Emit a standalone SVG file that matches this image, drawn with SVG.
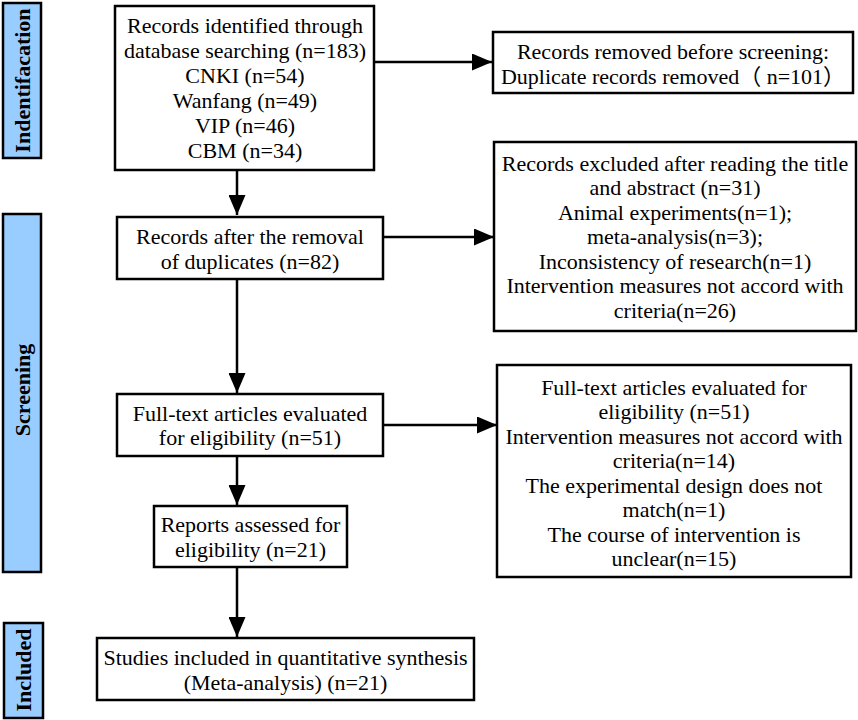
<svg xmlns="http://www.w3.org/2000/svg" width="858" height="720" viewBox="0 0 858 720">
<defs>
<style>
.box{fill:#fff;stroke:#000;stroke-width:2.5}
.side{fill:#99CCFF;stroke:#000;stroke-width:2.5}
.t{font-family:'Liberation Serif','Times New Roman','Noto Sans CJK SC',serif;font-size:22px;text-anchor:middle;fill:#000}
.st{font-family:'Liberation Serif','Times New Roman',serif;font-size:22px;font-weight:bold;text-anchor:middle;fill:#000}
.c{stroke:#000;stroke-width:2.5;fill:none;marker-end:url(#ah)}
</style>
<marker id="ah" markerUnits="userSpaceOnUse" markerWidth="20" markerHeight="17" refX="20" refY="8.5" orient="auto">
<path d="M0,0 L20,8.5 L0,17 z" fill="#000"/>
</marker>
</defs>
<rect width="858" height="720" fill="#fff"/>

<g id="label-identification">
<rect class="side" x="3" y="3" width="38" height="155"/>
<text class="st" transform="translate(30,80.5) rotate(-90)">Indentifacation</text>
</g>
<g id="label-screening">
<rect class="side" x="3" y="214" width="38" height="358"/>
<text class="st" transform="translate(30,390) rotate(-90)">Screening</text>
</g>
<g id="label-included">
<rect class="side" x="4" y="623" width="39" height="95"/>
<text class="st" transform="translate(31,670) rotate(-90)">Included</text>
</g>

<g id="connectors">
<line class="c" x1="374" y1="62" x2="492" y2="62"/>
<line class="c" x1="237" y1="170" x2="237" y2="215"/>
<line class="c" x1="383" y1="237" x2="494" y2="237"/>
<line class="c" x1="237" y1="279" x2="237" y2="393"/>
<line class="c" x1="383" y1="425" x2="497" y2="425"/>
<line class="c" x1="237" y1="456" x2="237" y2="505"/>
<line class="c" x1="237" y1="567" x2="237" y2="637"/>
</g>

<g id="identified">
<rect class="box" x="115" y="6" width="259" height="164"/>
<text class="t" x="245" y="33">Records identified through</text>
<text class="t" x="245" y="58">database searching (n=183)</text>
<text class="t" x="245" y="83">CNKI (n=54)</text>
<text class="t" x="245" y="108">Wanfang (n=49)</text>
<text class="t" x="245" y="133">VIP (n=46)</text>
<text class="t" x="245" y="158">CBM (n=34)</text>
</g>

<g id="removed">
<rect class="box" x="493" y="32" width="360" height="61"/>
<text class="t" x="673" y="59">Records removed before screening:</text>
<text class="t" x="673" y="83.5">Duplicate records removed（ n=101）</text>
</g>

<g id="after-removal">
<rect class="box" x="117" y="217" width="266" height="62"/>
<text class="t" x="250" y="243.5">Records after the removal</text>
<text class="t" x="250" y="268.5">of duplicates (n=82)</text>
</g>

<g id="excluded">
<rect class="box" x="494" y="142" width="362" height="189"/>
<text class="t" x="675" y="170.5">Records excluded after reading the title</text>
<text class="t" x="675" y="195">and abstract (n=31)</text>
<text class="t" x="675" y="219.5">Animal experiments(n=1);</text>
<text class="t" x="675" y="244">meta-analysis(n=3);</text>
<text class="t" x="675" y="268.5">Inconsistency of research(n=1)</text>
<text class="t" x="675" y="293">Intervention measures not accord with</text>
<text class="t" x="675" y="317.5">criteria(n=26)</text>
</g>

<g id="fulltext">
<rect class="box" x="117" y="394" width="266" height="62"/>
<text class="t" x="250" y="420.5">Full-text articles evaluated</text>
<text class="t" x="250" y="444.5">for eligibility (n=51)</text>
</g>

<g id="fulltext-excluded">
<rect class="box" x="497" y="365" width="354" height="212"/>
<text class="t" x="674" y="394.5">Full-text articles evaluated for</text>
<text class="t" x="674" y="419">eligibility (n=51)</text>
<text class="t" x="674" y="443.5">Intervention measures not accord with</text>
<text class="t" x="674" y="468">criteria(n=14)</text>
<text class="t" x="674" y="492.5">The experimental design does not</text>
<text class="t" x="674" y="517">match(n=1)</text>
<text class="t" x="674" y="541.5">The course of intervention is</text>
<text class="t" x="674" y="566">unclear(n=15)</text>
</g>

<g id="reports">
<rect class="box" x="154" y="506" width="193" height="61"/>
<text class="t" x="250.5" y="531.5">Reports assessed for</text>
<text class="t" x="250.5" y="556.5">eligibility (n=21)</text>
</g>

<g id="included">
<rect class="box" x="97" y="638" width="377" height="62"/>
<text class="t" x="285.5" y="664.5">Studies included in quantitative synthesis</text>
<text class="t" x="285.5" y="689.5">(Meta-analysis) (n=21)</text>
</g>
</svg>
